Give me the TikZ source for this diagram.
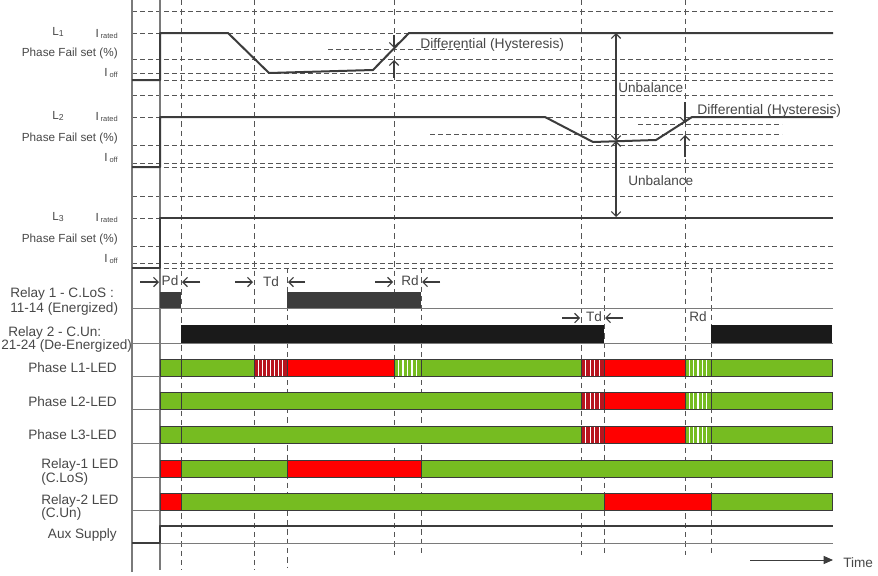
\documentclass[tikz,border=0pt]{standalone}
\usepackage{fontspec}
\setmainfont{Liberation Sans}
\usetikzlibrary{arrows.meta}
\definecolor{txt}{HTML}{484848}
\definecolor{gridc}{HTML}{555555}
\definecolor{ledgreen}{HTML}{76BC21}
\definecolor{ledred}{HTML}{FF0000}
\definecolor{flashred}{HTML}{B8141E}
\definecolor{sig}{HTML}{3C3C3C}
\definecolor{edgec}{HTML}{3A3A3A}
\definecolor{relayone}{HTML}{3C3C3C}
\definecolor{relaytwo}{HTML}{1A1A1A}
\definecolor{basec}{HTML}{7A7A7A}

\newcommand{\ledseg}[4]{% x1 x2 ybase colour
  \filldraw[fill=#4, draw=edgec, line width=0.5pt] (#1,#3-17) rectangle (#2,#3);}
\newcommand{\ledflash}[4]{% x1 x2 ybase colour
  \fill[#4] (#1,#3-17) rectangle (#2,#3);
  \pgfmathsetmacro{\nst}{int((#2-#1)/4.6)}
  \foreach \k in {1,...,\nst}{\draw[white, line width=0.9pt] ({#1+\k*(#2-#1)/(\nst+1)},#3-17) -- ({#1+\k*(#2-#1)/(\nst+1)},#3);}
  \draw[edgec, line width=0.5pt] (#1,#3-17) rectangle (#2,#3);}

\begin{document}
\begin{tikzpicture}[x=0.75pt,y=-0.75pt,
  lbl/.style={text=txt, font=\fontsize{10.2}{11}\selectfont, inner sep=0pt, text height=0.72em, text depth=0pt},
  big/.style={text=txt, font=\fontsize{10.4}{11}\selectfont, inner sep=0pt, text height=0.72em, text depth=0pt},
  pf/.style={text=txt, font=\fontsize{8.8}{10}\selectfont, inner sep=0pt, text height=0.72em, text depth=0pt},
  hgrid/.style={draw=gridc, line width=0.7pt, dash pattern=on 3.6pt off 2.4pt},
  vgrid/.style={draw=gridc, line width=0.7pt, dash pattern=on 4pt off 3pt},
  axisline/.style={draw=basec, line width=0.8pt},
  baseline/.style={draw=basec, line width=0.7pt},
  sigline/.style={draw=sig, line width=1.5pt, line join=round},
  dim/.style={draw=sig, line width=0.8pt, -{Straight Barb[length=3.5pt,width=7pt]}},
  dimboth/.style={draw=sig, line width=0.8pt, {Straight Barb[length=3.5pt,width=7pt]}-{Straight Barb[length=3.5pt,width=7pt]}},
]
\useasboundingbox[fill=white] (0,0) rectangle (878,575);

% horizontal dashed grid
\foreach \yy in {11,33,59,73,80,95,117,145,163,167,196,218,246,263,268}
  \draw[hgrid] (132,\yy) -- (833,\yy);
% hysteresis levels
\draw[hgrid] (328,49) -- (472,49);
\draw[hgrid] (638,124) -- (782,124);
\draw[hgrid] (430,134) -- (782,134);

% vertical dashed lines
\foreach \xx in {181,254} \draw[vgrid] (\xx,0) -- (\xx,570);
\foreach \xx in {394,581,685} \draw[vgrid] (\xx,0) -- (\xx,555);
\draw[vgrid] (287,268) -- (287,567);
\foreach \xx in {421,604,711} \draw[vgrid] (\xx,268) -- (\xx,553);

% axis lines
\draw[axisline] (132,0) -- (132,572);
\draw[axisline] (160,0) -- (160,570);

% baselines
\foreach \yy in {308,343,376,409,443,477,510,543} \draw[baseline] (132,\yy) -- (833,\yy);

% phase signals
\draw[sigline] (132,80) -- (160,80) -- (160,33) -- (228,33) -- (269,73) -- (373,70) -- (409,33) -- (833,33);
\draw[sigline] (132,167) -- (160,167) -- (160,117) -- (545,117) -- (593,142) -- (656,140) -- (692,117) -- (833,117);
\draw[sigline] (132,268) -- (160,268) -- (160,218) -- (833,218);

% relay contacts
\fill[relayone] (160,292) rectangle (181,308);
\fill[relayone] (287,292) rectangle (421,308);
\fill[relaytwo] (181,325) rectangle (604,343);
\fill[relaytwo] (711,325) rectangle (832,343);

% Phase L1 LED
\ledseg{160}{181}{376}{ledgreen}
\ledseg{181}{254}{376}{ledgreen}
\ledflash{254}{287}{376}{flashred}
\ledseg{287}{394}{376}{ledred}
\ledflash{394}{421}{376}{ledgreen}
\ledseg{421}{581}{376}{ledgreen}
\ledflash{581}{604}{376}{flashred}
\ledseg{604}{685}{376}{ledred}
\ledflash{685}{711}{376}{ledgreen}
\ledseg{711}{832}{376}{ledgreen}
% Phase L2 / L3 LED
\foreach \yb in {409,443}{
  \ledseg{160}{181}{\yb}{ledgreen}
  \ledseg{181}{581}{\yb}{ledgreen}
  \ledflash{581}{604}{\yb}{flashred}
  \ledseg{604}{685}{\yb}{ledred}
  \ledflash{685}{711}{\yb}{ledgreen}
  \ledseg{711}{832}{\yb}{ledgreen}
}
% Relay-1 LED
\ledseg{160}{181}{477}{ledred}
\ledseg{181}{287}{477}{ledgreen}
\ledseg{287}{421}{477}{ledred}
\ledseg{421}{832}{477}{ledgreen}
% Relay-2 LED
\ledseg{160}{181}{510}{ledred}
\ledseg{181}{604}{510}{ledgreen}
\ledseg{604}{711}{510}{ledred}
\ledseg{711}{832}{510}{ledgreen}

% aux supply
\draw[sigline] (132,543) -- (160,543) -- (160,526) -- (833,526);

% hysteresis arrows
\coordinate (h1a) at (394,35); \coordinate (h1b) at (394,48);
\coordinate (h1c) at (394,78); \coordinate (h1d) at (394,60);
\draw[dim] (h1a) -- (h1b);
\draw[dim] (h1c) -- (h1d);
\coordinate (h2a) at (685,102); \coordinate (h2b) at (685,123);
\coordinate (h2c) at (685,157); \coordinate (h2d) at (685,135);
\draw[dim] (h2a) -- (h2b);
\draw[dim] (h2c) -- (h2d);

% unbalance arrows
\coordinate (u1) at (616,33); \coordinate (u2) at (616,141); \coordinate (u3) at (616,217);
\draw[dimboth] (u1) -- (u2);
\draw[dimboth] (u2) -- (u3);

% time delay markers
\node[lbl] (pd) at (170,281) {Pd};
\coordinate (pda) at (140,282); \coordinate (pdb) at (159,282);
\coordinate (pdc) at (200,282); \coordinate (pdd) at (182,282);
\draw[dim] (pda) -- (pdb); \draw[dim] (pdc) -- (pdd);

\node[lbl] (td1) at (271,282) {Td};
\coordinate (t1a) at (235,282); \coordinate (t1b) at (253,282);
\coordinate (t1c) at (305,282); \coordinate (t1d) at (288,282);
\draw[dim] (t1a) -- (t1b); \draw[dim] (t1c) -- (t1d);

\node[lbl] (rd1) at (410,281) {Rd};
\coordinate (r1a) at (375,282); \coordinate (r1b) at (393,282);
\coordinate (r1c) at (440,282); \coordinate (r1d) at (422,282);
\draw[dim] (r1a) -- (r1b); \draw[dim] (r1c) -- (r1d);

\node[lbl] (td2) at (594,317) {Td};
\coordinate (t2a) at (562,318); \coordinate (t2b) at (580,318);
\coordinate (t2c) at (623,318); \coordinate (t2d) at (605,318);
\draw[dim] (t2a) -- (t2b); \draw[dim] (t2c) -- (t2d);

\node[lbl] (rd2) at (698,317) {Rd};

% curve labels
\node[big, anchor=west] (dh1) at (420,44) {Differential (Hysteresis)};
\node[big, anchor=west] (dh2) at (697,110) {Differential (Hysteresis)};
\node[lbl, anchor=west] (ub1) at (618,88) {Unbalance};
\node[lbl, anchor=west] (ub2) at (628,181) {Unbalance};

% left labels: phases
\node[pf, anchor=west] (l1) at (52,31) {L\raisebox{-0.1ex}{\fontsize{6.5}{8}\selectfont 1}};
\node[pf, anchor=west] (l2) at (52,115) {L\raisebox{-0.1ex}{\fontsize{6.5}{8}\selectfont 2}};
\node[pf, anchor=west] (l3) at (52,216) {L\raisebox{-0.1ex}{\fontsize{6.5}{8}\selectfont 3}};
\foreach \nm/\yr/\yp/\yo in {a/33/52/72, b/116/137/157, c/217/238/258}{
  \node[pf, anchor=east] (ir\nm) at (118,\yr) {I\,\raisebox{-0.1ex}{\fontsize{5.6}{6}\selectfont rated}};
  \node[pf, anchor=east] (pfs\nm) at (118,\yp) {Phase Fail set (\%)};
  \node[pf, anchor=east] (io\nm) at (118,\yo) {I\,\raisebox{-0.1ex}{\fontsize{5.6}{6}\selectfont off}};
}

% left labels: relays and LEDs
\node[lbl, anchor=west] (r1l1) at (10,293) {Relay 1 - C.LoS :};
\node[lbl, anchor=west] (r1l2) at (10,308) {11-14 (Energized)};
\node[lbl, anchor=west] (r2l1) at (8,332) {Relay 2 - C.Un:};
\node[lbl, anchor=west] (r2l2) at (1,345) {21-24 (De-Energized)};
\node[lbl, anchor=east] (led1) at (117,368) {Phase L1-LED};
\node[lbl, anchor=east] (led2) at (117,402) {Phase L2-LED};
\node[lbl, anchor=east] (led3) at (117,435) {Phase L3-LED};
\node[lbl, anchor=west] (rl1a) at (41,464) {Relay-1 LED};
\node[lbl, anchor=west] (rl1b) at (41,478) {(C.LoS)};
\node[lbl, anchor=west] (rl2a) at (41,500) {Relay-2 LED};
\node[lbl, anchor=west] (rl2b) at (41,513) {(C.Un)};
\node[lbl, anchor=east] (aux) at (117,534) {Aux Supply};

% time axis
\node[lbl, anchor=west] (time) at (843,563) {Time};
\coordinate (ta) at (750,560); \coordinate (tb) at (833,560);
\draw[draw=sig, line width=0.7pt, -{Triangle[length=7pt,width=6pt]}] (ta) -- (tb);
\end{tikzpicture}
\end{document}
